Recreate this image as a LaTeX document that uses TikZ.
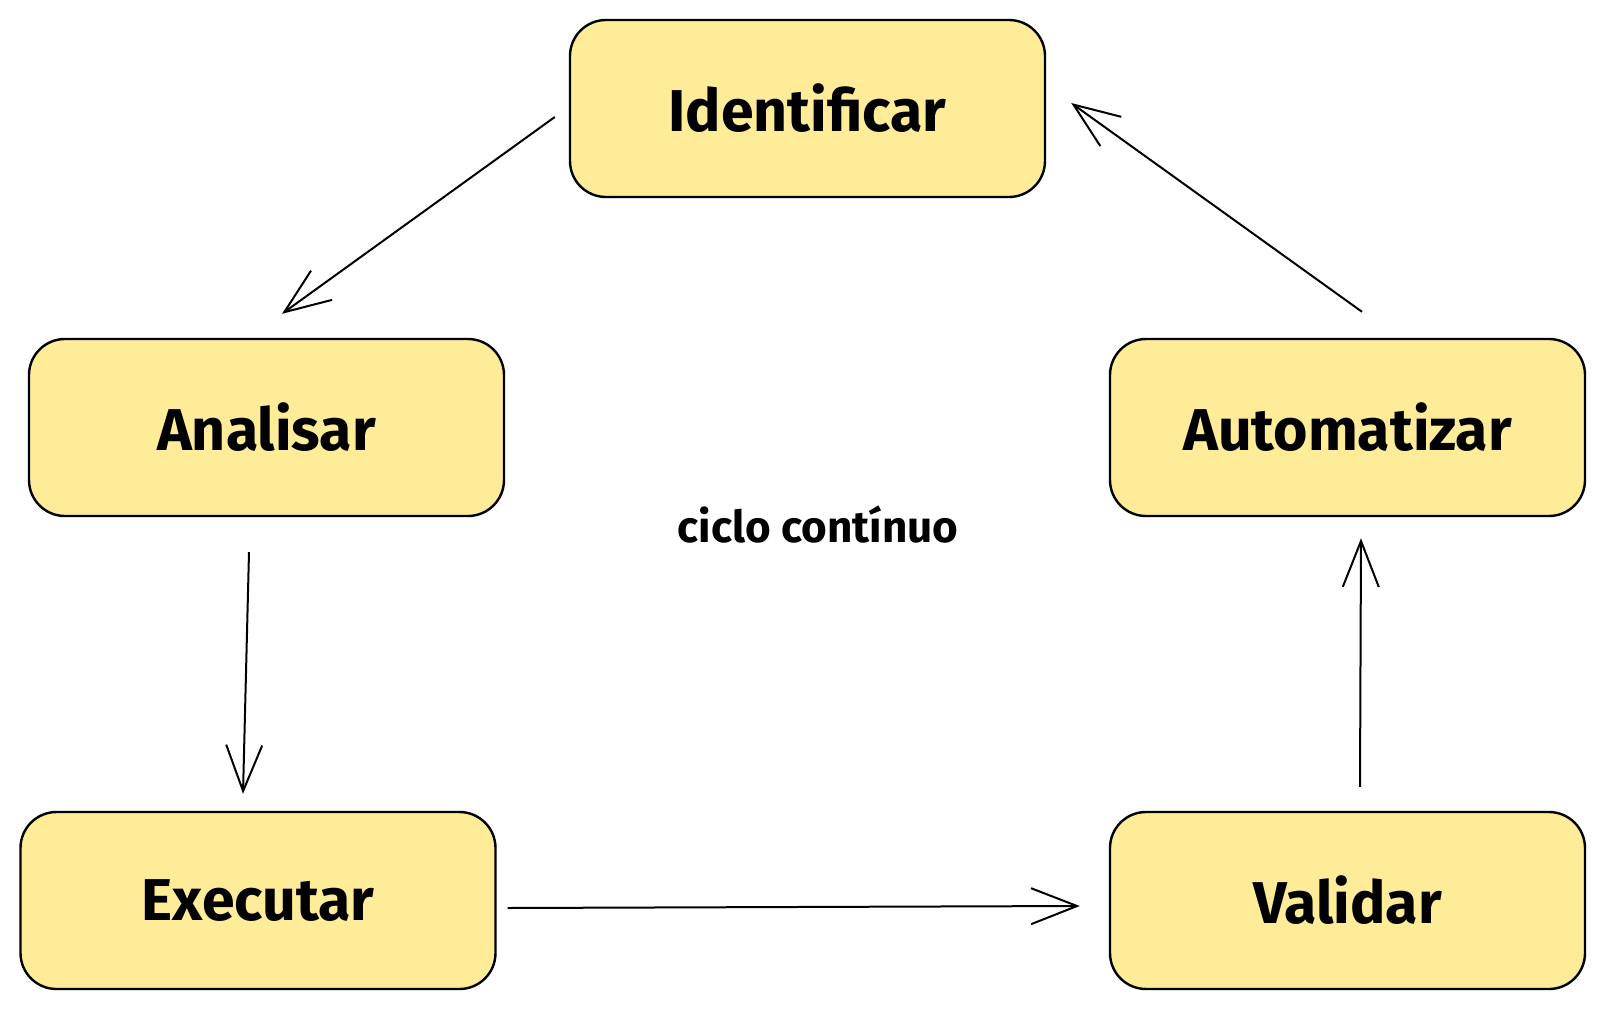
\documentclass[tikz,border=0pt]{standalone}
\usepackage{fontspec}
\setmainfont{Fira Sans}
\usetikzlibrary{arrows.meta}
\definecolor{boxfill}{HTML}{FFEC99}
\begin{document}
\begin{tikzpicture}[x=1pt,y=-1pt,
  stepbox/.style={draw=black, line width=2.4pt, fill=boxfill, rounded corners=36pt,
    minimum width=475pt, minimum height=177pt, inner sep=0pt,
    font=\fontsize{59}{66}\selectfont\bfseries},
  flow/.style={line width=2pt,
    -{Straight Barb[length=46pt,width=36pt,line width=2pt]}},
  note/.style={font=\fontsize{44}{52}\selectfont\bfseries, inner sep=0pt}]
\useasboundingbox (0,0) rectangle (1604,1010);
\node[stepbox] (ident) at (807.5,108.5) {Identificar};
\node[stepbox] (anal) at (266.5,427.5) {Analisar};
\node[stepbox] (auto) at (1347.5,427.5) {Automatizar};
\node[stepbox] (exec) at (258,900.5) {Executar};
\node[stepbox] (valid) at (1347.5,900.5) {Validar};
\node[note] (ciclo) at (818,524) {ciclo contínuo};
\coordinate (p1) at ([shift={(-14pt,-8.5pt)}]ident.west);
\coordinate (q1) at ([shift={(15.5pt,24pt)}]anal.north);
\coordinate (p2) at ([shift={(-17.5pt,-35pt)}]anal.south);
\coordinate (q2) at ([shift={(-15pt,17pt)}]exec.north);
\coordinate (p3) at ([shift={(11pt,-7.5pt)}]exec.east);
\coordinate (q3) at ([shift={(-29pt,-5.5pt)}]valid.west);
\coordinate (p4) at ([shift={(12.5pt,24pt)}]valid.north);
\coordinate (q4) at ([shift={(13.5pt,-21pt)}]auto.south);
\coordinate (p5) at ([shift={(14.5pt,26pt)}]auto.north);
\coordinate (q5) at ([shift={(25pt,5.5pt)}]ident.east);
\draw[flow] (p1) -- (q1);
\draw[flow] (p2) -- (q2);
\draw[flow] (p3) -- (q3);
\draw[flow] (p4) -- (q4);
\draw[flow] (p5) -- (q5);
\end{tikzpicture}
\end{document}
